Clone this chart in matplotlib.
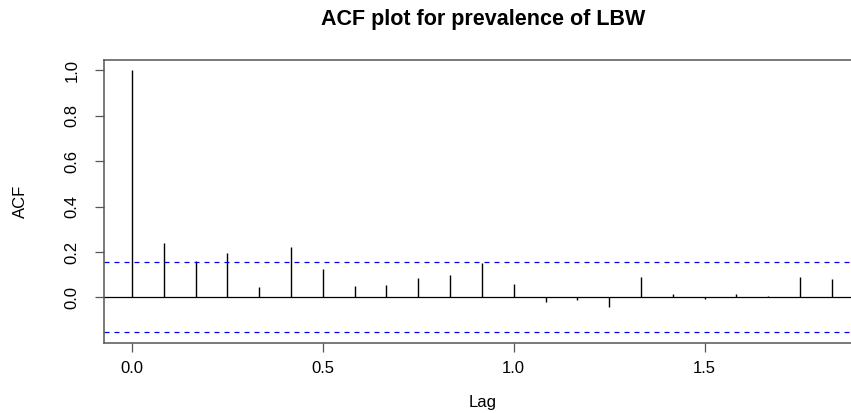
import matplotlib
matplotlib.use("Agg")
import matplotlib.pyplot as plt

# ACF values (monthly lags, 1/12 steps)
lags = [i / 12 for i in range(23)]
acf_values = [1.000, 0.241, 0.160, 0.194, 0.047, 0.220, 0.123, 0.051, 0.056, 0.084,
              0.098, 0.150, 0.059, -0.022, -0.010, -0.041, 0.088, 0.016, -0.008,
              0.013, 0.006, 0.088, 0.081]
ci_bound = 0.154
x_ticks = [0.0, 0.5, 1.0, 1.5]
y_ticks = [0.0, 0.2, 0.4, 0.6, 0.8, 1.0]

plt.rcParams['font.family'] = ['Liberation Sans', 'DejaVu Sans']

fig = plt.figure(figsize=(8.51, 4.13), dpi=100)
# axes runs past the right edge of the figure, like the cropped reference
ax = fig.add_axes([104 / 851, 1 - 342.7 / 413, 756 / 851, (342.7 - 60) / 413])

ax.vlines(lags, 0, acf_values, color='black', linewidth=1.0)
ax.axhline(0, color='black', linewidth=0.9)
ax.axhline(ci_bound, color='blue', linestyle=(0, (4, 4)), linewidth=0.9)
ax.axhline(-ci_bound, color='blue', linestyle=(0, (4, 4)), linewidth=0.9)

ax.set_xlim(-0.0733, 1.907)
ax.set_ylim(-0.200, 1.046)
ax.set_xticks(x_ticks)
ax.set_xticklabels([f"{v:.1f}" for v in x_ticks])
ax.set_yticks(y_ticks)
ax.set_yticklabels([f"{v:.1f}" for v in y_ticks], rotation=90, va='center')

for sp in ax.spines.values():
    sp.set_color('#555555')
    sp.set_linewidth(1.1)
ax.tick_params(axis='both', direction='out', length=6.5, width=0.9, color='#555555',
               labelsize=12)
ax.tick_params(axis='x', pad=7)
ax.tick_params(axis='y', pad=11)

ax.set_xlabel("Lag", fontsize=12, va='center')
ax.set_ylabel("ACF", fontsize=12, va='center')
ax.xaxis.set_label_coords(0.501, (342.7 - 403) / 282.7)
ax.yaxis.set_label_coords((20.5 - 104) / 756, 0.5)
fig.text(483 / 851, 1 - 20 / 413, "ACF plot for prevalence of LBW",
         ha='center', va='center', fontsize=15.5, fontweight='bold')

fig.savefig("out.png", dpi=100)
